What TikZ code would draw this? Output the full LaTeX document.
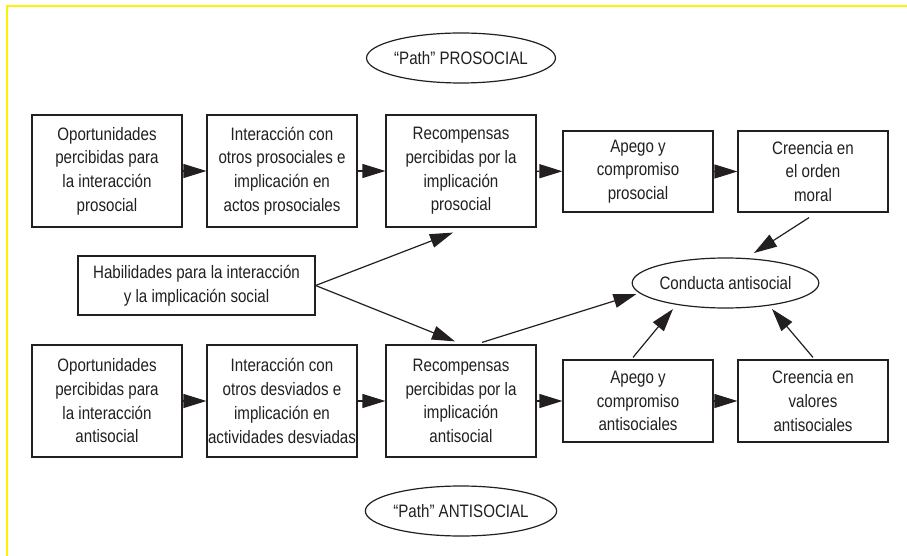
\documentclass[tikz,border=0pt]{standalone}
\usepackage{fontspec}
\setmainfont[FakeStretch=0.84]{Liberation Sans}
\usetikzlibrary{shapes.geometric,arrows.meta,calc}
\definecolor{ink}{RGB}{35,31,32}
\definecolor{frameyellow}{RGB}{255,242,0}
\begin{document}
\begin{tikzpicture}[x=1pt,y=-1pt,
  lbl/.style={text=ink, align=center, inner sep=0pt, font=\fontsize{18}{23.7}\selectfont},
  box/.style={lbl, draw=ink, line width=1.2pt, minimum width=150pt},
  tallbox/.style={box, minimum height=112pt},
  shortbox/.style={box, minimum height=81pt},
  oval/.style={lbl, ellipse, draw=ink, line width=1.2pt, minimum height=50pt},
  arr/.style={draw=ink, line width=1.2pt, -{Triangle[length=23pt,width=14pt]}}
]
\useasboundingbox (0,0) rectangle (907,556);
\fill[white] (0,0) rectangle (907,556);
\coordinate (yl) at (7,556);
\coordinate (yc) at (7,6);
\coordinate (yr) at (907,6);
\draw[frameyellow, line width=1.5pt] (yl) -- (yc) -- (yr);

% top row
\node[tallbox] (A1) at (107,171) {Oportunidades\\percibidas para\\la interacción\\prosocial};
\node[tallbox] (A2) at (282,171) {Interacción con\\otros prosociales e\\implicación en\\actos prosociales};
\node[tallbox] (A3) at (461,171) {Recompensas\\percibidas por la\\implicación\\prosocial};
\node[shortbox] (A4) at (638,171.5) {Apego y\\compromiso\\prosocial};
\node[shortbox] (A5) at (813,171.5) {Creencia en\\el orden\\moral};

% bottom row
\node[tallbox] (B1) at (107,401) {Oportunidades\\percibidas para\\la interacción\\antisocial};
\node[tallbox] (B2) at (282,401) {Interacción con\\otros desviados e\\implicación en\\actividades desviadas};
\node[tallbox] (B3) at (461,401) {Recompensas\\percibidas por la\\implicación\\antisocial};
\node[box, minimum height=82pt] (B4) at (638,401) {Apego y\\compromiso\\antisociales};
\node[box, minimum height=82pt] (B5) at (813,401) {Creencia en\\valores\\antisociales};

% middle
\node[box, minimum width=237pt, minimum height=59pt] (H) at (196.5,285.5) {Habilidades para la interacción\\y la implicación social};
\node[oval, minimum width=173pt] (C) at (725.5,283) {Conducta antisocial};

% path labels
\node[oval, minimum width=172pt] (PP) at (461,58) {“Path” PROSOCIAL};
\node[oval, minimum width=172pt] (PA) at (461,511) {“Path” ANTISOCIAL};

% arrows
\draw[arr] (A1) -- (A2);
\draw[arr] (A2) -- (A3);
\draw[arr] (A3) -- (A4);
\draw[arr] (A4) -- (A5);
\draw[arr] (B1) -- (B2);
\draw[arr] (B2) -- (B3);
\draw[arr] (B3) -- (B4);
\draw[arr] (B4) -- (B5);

\draw[arr] (H.east) -- ($(A3.south)+(-8,5)$);
\draw[arr] (H.east) -- ($(B3.north)+(-6,-3)$);
\draw[arr] ($(B3.north)+(21,-2)$) -- ($(C.center)+(-89,11)$);
\draw[arr] ($(A5.south)+(-4,5)$) -- ($(C.center)+(28.5,-30)$);
\draw[arr] ($(B4.north)+(-5,-2)$) -- ($(C.center)+(-52.5,26)$);
\draw[arr] ($(B5.north)+(0,-2)$) -- ($(C.center)+(46.5,26)$);
\end{tikzpicture}
\end{document}
